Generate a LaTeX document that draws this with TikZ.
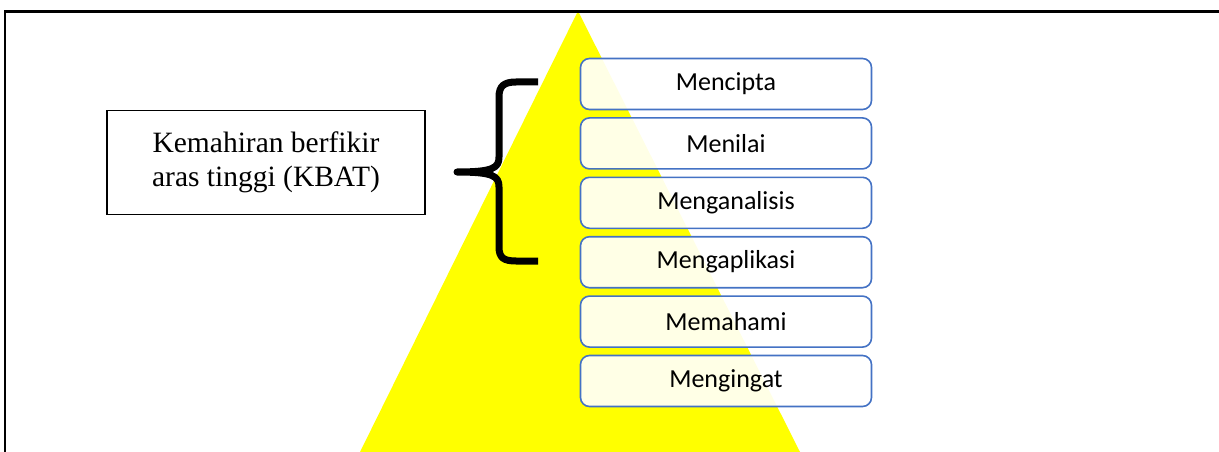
\documentclass[tikz,border=0pt]{standalone}
\usepackage{fontspec}
\setmainfont{Liberation Serif}
\newfontfamily\boxfont{Carlito}
\definecolor{boxblue}{HTML}{4472C4}
\definecolor{pyr}{HTML}{FFFF00}
\begin{document}
\begin{tikzpicture}[x=1pt,y=-1pt,
  level/.style={draw=boxblue, line width=1.6pt, rounded corners=9pt,
    fill=white, fill opacity=0.9, text opacity=1,
    minimum width=291pt, minimum height=51pt, inner sep=0pt,
    font=\boxfont\fontsize{26}{30}\selectfont},
  kbat/.style={draw=black, line width=1.3pt, minimum width=318pt, minimum height=104pt,
    align=center, inner sep=0pt, font=\fontsize{29.5}{34}\selectfont}]
\useasboundingbox (0,0) rectangle (1219,452);
% pyramid
\fill[pyr] (578,11) -- (800,452) -- (360,452) -- cycle;
% frame
\draw[line width=2.4pt] (5,452) -- (5,11.5) -- (1219,11.5);
% levels
\foreach \t [count=\i from 0] in {Mencipta,Menilai,Menganalisis,Mengaplikasi,Memahami,Mengingat}{
  \node[level] (L\i) at (726,{84+59.4*\i}) {\t};
}
% KBAT box
\node[kbat] (kbat) at (266,162.5) {Kemahiran berfikir\\aras tinggi (KBAT)};
% brace
\coordinate (btop) at (538,82);
\coordinate (btip) at (457,172);
\coordinate (bbot) at (538,261);
\draw[line width=7pt, line join=round] (btop) -- (516,82)
  .. controls (504,82) and (499,86) .. (499,97) -- (499,157)
  .. controls (499,168) and (493,172) .. (btip)
  .. controls (493,172) and (499,176) .. (499,187) -- (499,247)
  .. controls (499,258) and (504,261) .. (516,261) -- (bbot);
\end{tikzpicture}
\end{document}
